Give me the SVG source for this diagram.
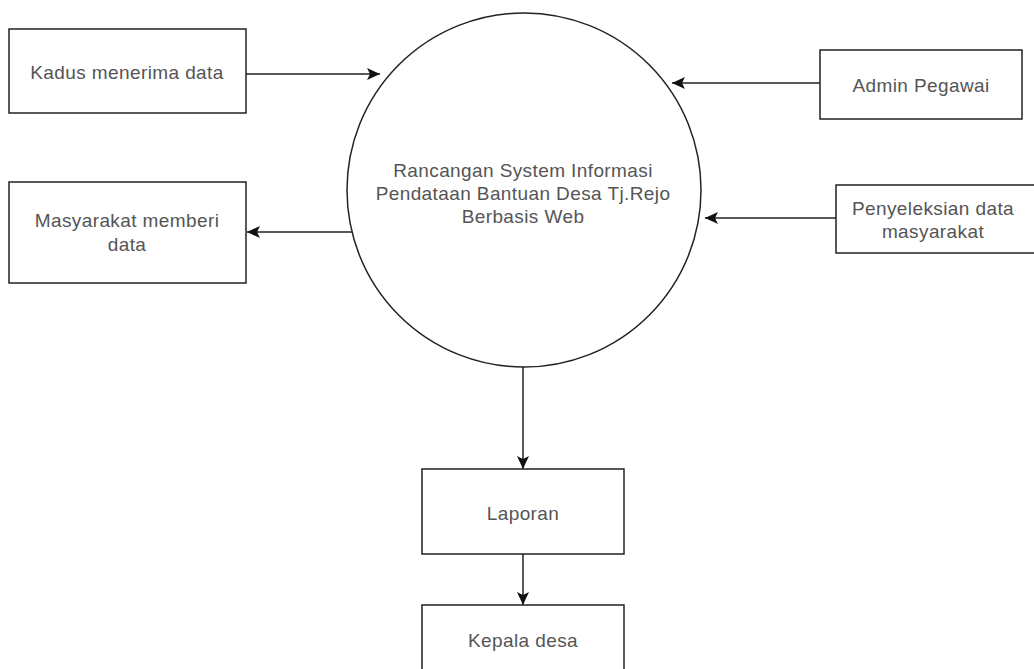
<svg xmlns="http://www.w3.org/2000/svg" width="1034" height="669" viewBox="0 0 1034 669">
<defs>
<style>
.box{fill:#fff;stroke:#222;stroke-width:1.5}
.t{font-family:"Liberation Sans",Arial,sans-serif;font-size:19px;letter-spacing:0.4px;fill:#555;text-anchor:middle;dominant-baseline:central}
.c{fill:none;stroke:#222;stroke-width:1.5}
</style>
<marker id="ah" viewBox="0 0 13 12" refX="13" refY="6" markerWidth="13" markerHeight="12" markerUnits="userSpaceOnUse" orient="auto">
<path d="M0,0 L13,6 L0,12 L3,6 Z" fill="#111"/>
</marker>
</defs>
<rect width="1034" height="669" fill="#fff"/>
<g id="connectors">
<line class="c" x1="246" y1="74" x2="380" y2="74" marker-end="url(#ah)"/>
<line class="c" x1="352" y1="232" x2="247" y2="232" marker-end="url(#ah)"/>
<line class="c" x1="820" y1="83" x2="672" y2="83" marker-end="url(#ah)"/>
<line class="c" x1="836" y1="218" x2="705" y2="218" marker-end="url(#ah)"/>
<line class="c" x1="523" y1="367" x2="523" y2="469" marker-end="url(#ah)"/>
<line class="c" x1="523" y1="554" x2="523" y2="605" marker-end="url(#ah)"/>
</g>
<g id="process">
<circle cx="524" cy="190" r="177" fill="#fff" stroke="#222" stroke-width="1.5"/>
<text class="t" x="523" y="170">Rancangan System Informasi</text>
<text class="t" x="523" y="193">Pendataan Bantuan Desa Tj.Rejo</text>
<text class="t" x="523" y="216">Berbasis Web</text>
</g>
<g id="kadus">
<rect class="box" x="9" y="29" width="237" height="84"/>
<text class="t" x="127" y="72">Kadus menerima data</text>
</g>
<g id="masyarakat">
<rect class="box" x="9" y="182" width="237" height="101"/>
<text class="t" x="127" y="220">Masyarakat memberi</text>
<text class="t" x="127" y="244">data</text>
</g>
<g id="admin">
<rect class="box" x="820" y="50" width="202" height="69"/>
<text class="t" x="921" y="85">Admin Pegawai</text>
</g>
<g id="penyeleksian">
<rect class="box" x="836" y="185" width="202" height="68"/>
<text class="t" x="933" y="208">Penyeleksian data</text>
<text class="t" x="933" y="231">masyarakat</text>
</g>
<g id="laporan">
<rect class="box" x="422" y="469" width="202" height="85"/>
<text class="t" x="523" y="513">Laporan</text>
</g>
<g id="kepala">
<rect class="box" x="422" y="605" width="202" height="70"/>
<text class="t" x="523" y="640">Kepala desa</text>
</g>
</svg>
